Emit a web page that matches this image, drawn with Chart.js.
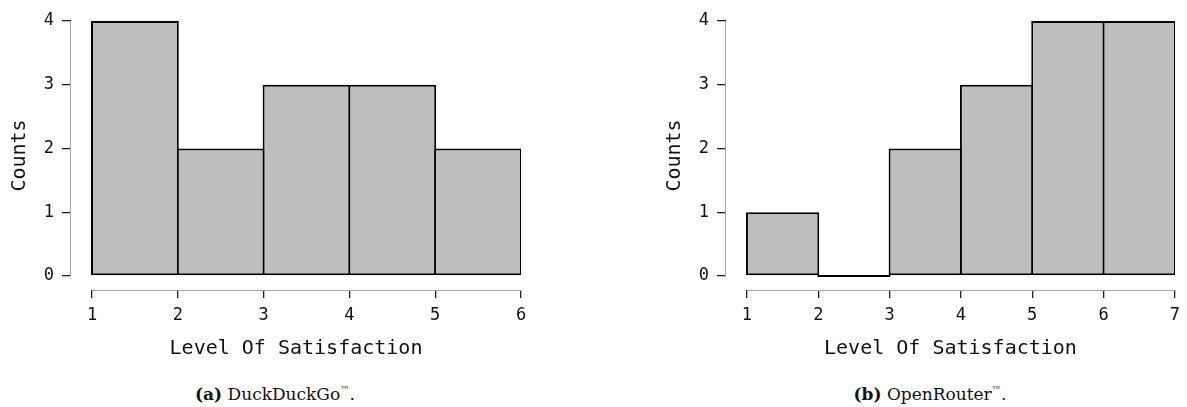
<!DOCTYPE html>
<html>
<head>
<meta charset="utf-8">
<script src="https://cdn.jsdelivr.net/npm/chart.js@4.4.1/dist/chart.umd.min.js"></script>
<style>
  html, body { margin: 0; padding: 0; background: #fff; }
  #wrap { position: relative; width: 1187px; height: 407px; overflow: hidden; }
  canvas { position: absolute; top: 0; }
  .cap { position: absolute; top: 384px; font-family: "DejaVu Serif", "Liberation Serif", serif; font-size: 17px; color: #111; white-space: nowrap; transform: translateX(-50%); }
  .cap b { font-weight: bold; }
  .tm { font-size: 0.55em; vertical-align: 0.8em; }
</style>
</head>
<body>
<div id="wrap">
  <canvas id="cA" width="593" height="370" style="left:0px"></canvas>
  <canvas id="cB" width="594" height="370" style="left:593px"></canvas>
  <div class="cap" style="left:275px"><b>(a)</b> DuckDuckGo<span class="tm">™</span>.</div>
  <div class="cap" style="left:930px"><b>(b)</b> OpenRouter<span class="tm">™</span>.</div>
</div>
<script>
// ---- data ----
const binEdgesA = [1, 2, 3, 4, 5, 6];
const countsA = [4, 2, 3, 3, 2];
const binEdgesB = [1, 2, 3, 4, 5, 6, 7];
const countsB = [1, 0, 2, 3, 4, 4];
const yTicks = [0, 1, 2, 3, 4];
const xTitle = 'Level Of Satisfaction';
const yTitle = 'Counts';

const MONO = '"DejaVu Sans Mono", "Liberation Mono", monospace';
const BW = 2;

function toBars(edges, counts) {
  return counts.map((c, i) => ({ x: (edges[i] + edges[i + 1]) / 2, y: c }));
}

const axisLines = {
  id: 'axisLines',
  afterDraw(chart) {
    const { ctx, chartArea, scales } = chart;
    const xs = scales.x, ys = scales.y;
    const xt = chart.options.plugins.axisLines.xTicks;
    const yt = chart.options.plugins.axisLines.yTicks;
    ctx.save();
    ctx.strokeStyle = '#a9a9a9';
    ctx.lineWidth = 1;
    ctx.beginPath();
    const yb = Math.round(chartArea.bottom) + 0.5;
    ctx.moveTo(xs.getPixelForValue(xt[0]), yb);
    ctx.lineTo(xs.getPixelForValue(xt[xt.length - 1]), yb);
    const xl = Math.round(chartArea.left) - 0.5;
    ctx.moveTo(xl, ys.getPixelForValue(yt[0]));
    ctx.lineTo(xl, ys.getPixelForValue(yt[yt.length - 1]));
    ctx.stroke();
    ctx.restore();
  }
};

function makeChart(id, edges, counts, xMin, padLeft, padRight, pxPerUnit) {
  return new Chart(document.getElementById(id), {
    type: 'bar',
    data: {
      datasets: [{
        data: toBars(edges, counts),
        backgroundColor: '#bebebe',
        borderColor: '#000',
        borderWidth: BW,
        borderSkipped: false,
        minBarLength: BW,
        barPercentage: 1 + BW / pxPerUnit,
        categoryPercentage: 1
      }]
    },
    options: {
      responsive: false,
      animation: false,
      devicePixelRatio: 1,
      layout: { padding: { top: 21, left: padLeft, right: padRight, bottom: 0 } },
      plugins: {
        legend: { display: false },
        tooltip: { enabled: false },
        axisLines: { xTicks: edges, yTicks: yTicks }
      },
      scales: {
        x: {
          type: 'linear',
          min: xMin,
          max: edges[edges.length - 1],
          offset: false,
          afterBuildTicks: s => { s.ticks = edges.map(v => ({ value: v })); },
          afterFit: s => { s.height = 80; },
          grid: { offset: false, drawOnChartArea: false, drawTicks: true, tickLength: 8, color: '#222', lineWidth: 1.3 },
          border: { display: false },
          ticks: { font: { family: MONO, size: 17 }, color: '#111', padding: 7, maxRotation: 0, autoSkip: false },
          title: { display: true, text: xTitle, font: { family: MONO, size: 20 }, color: '#111', padding: { top: 0, bottom: 9 } }
        },
        y: {
          type: 'linear',
          min: -0.22,
          max: yTicks[yTicks.length - 1],
          afterBuildTicks: s => { s.ticks = yTicks.map(v => ({ value: v })); },
          afterFit: s => { s.width = 71; },
          grid: { offset: false, drawOnChartArea: false, drawTicks: true, tickLength: 9, color: '#222', lineWidth: 1.3 },
          border: { display: false },
          ticks: { font: { family: MONO, size: 17 }, color: '#111', padding: 8 },
          title: { display: true, text: yTitle, font: { family: MONO, size: 20 }, color: '#111', padding: { top: 8, bottom: 0 } }
        }
      }
    },
    plugins: [axisLines]
  });
}

makeChart('cA', binEdgesA, countsA, 0.7552, 0, 72, 85.8);
makeChart('cB', binEdgesB, countsB, 0.7063, 62, 11, 71.5);
</script>
</body>
</html>
